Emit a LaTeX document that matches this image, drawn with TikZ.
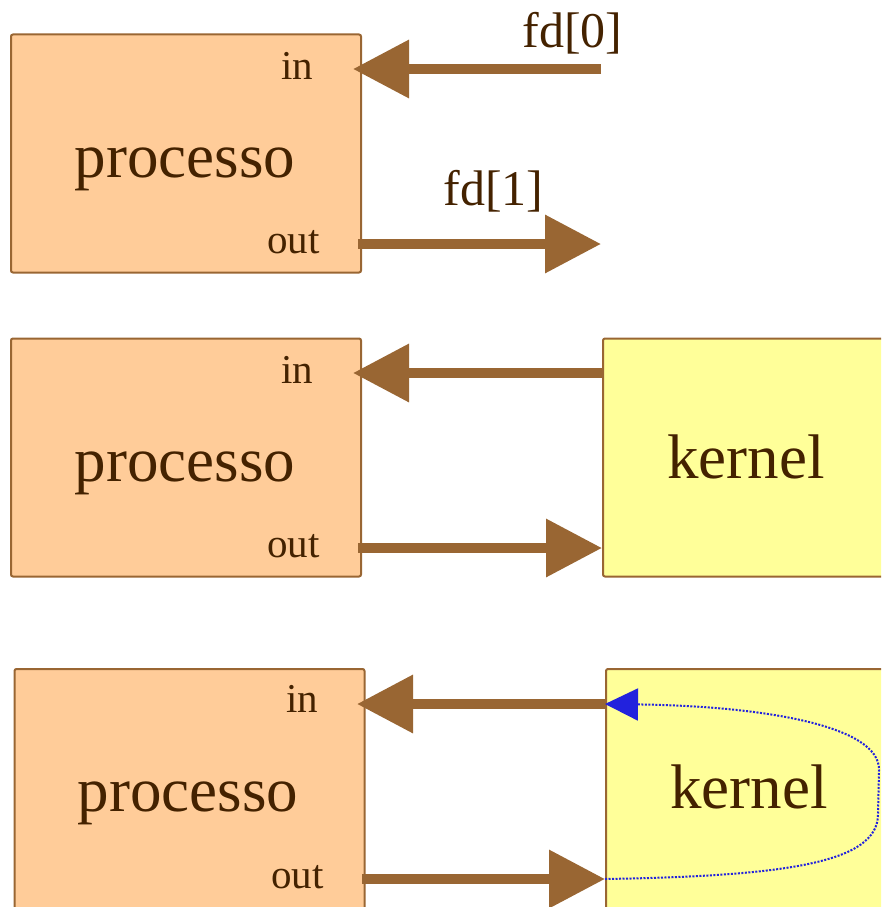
\documentclass[tikz,border=0pt]{standalone}
\usepackage{fontspec}
\setmainfont{Liberation Serif}
\usetikzlibrary{arrows.meta}

\definecolor{boxfill}{HTML}{FFCC99}
\definecolor{kernfill}{HTML}{FFFF99}
\definecolor{pipebrown}{HTML}{996633}
\definecolor{txtbrown}{HTML}{442200}
\definecolor{loopblue}{HTML}{2222DD}

\tikzset{
  procbox/.style={draw=pipebrown, line width=2pt, fill=boxfill, rounded corners=2pt,
    minimum width=350pt, minimum height=238pt, inner sep=0pt},
  kernbox/.style={procbox, fill=kernfill, minimum width=286pt, anchor=west},
  pipe/.style={draw=pipebrown, line width=10pt, -{Triangle[length=56pt,width=56pt]}},
  bigtext/.style={text=txtbrown, font=\fontsize{63}{63}\selectfont, anchor=base},
  porttext/.style={text=txtbrown, font=\fontsize{41}{41}\selectfont, anchor=base east},
  fdtext/.style={text=txtbrown, font=\fontsize{50}{50}\selectfont, anchor=base east}
}

\begin{document}
\begin{tikzpicture}[x=1pt,y=-1pt]
  \useasboundingbox (0,0) rectangle (881,907);
  \clip (0,0) rectangle (881,907);

  % row 1: process with its two descriptors
  \node[procbox] (p1) at (186,153.5) {};
  \node[bigtext] (p1txt) at (185,177) {processo};
  \node[porttext] (p1in) at (317,79) {in};
  \node[porttext] (p1out) at (323,253) {out};
  \coordinate (in1) at (353,69);
  \coordinate (src1) at (601,69);
  \coordinate (out1) at (358,244);
  \coordinate (dst1) at (601,244);
  \draw[pipe] (src1) -- (in1);
  \draw[pipe] (out1) -- (dst1);
  \node[fdtext] (fd0) at (626,48) {fd[0]};
  \node[fdtext] (fd1) at (547,205) {fd[1]};

  % row 2: process and kernel
  \node[procbox] (p2) at (186,457.5) {};
  \node[bigtext] (p2txt) at (185,481) {processo};
  \node[porttext] (p2in) at (317,383) {in};
  \node[porttext] (p2out) at (323,557) {out};
  \node[kernbox] (k2) at (602,457.5) {};
  \node[bigtext] (k2txt) at (746,478) {kernel};
  \coordinate (in2) at (353,373);
  \coordinate (out2) at (358,548);
  \draw[pipe] (k2.west |- in2) -- (in2);
  \draw[pipe] (out2) -- (out2 -| k2.west);

  % row 3: the kernel sends the data back (cut by the page edge)
  \node[procbox, minimum height=260pt] (p3) at (189.5,799) {};
  \node[bigtext] (p3txt) at (188,811) {processo};
  \node[porttext] (p3in) at (322,712) {in};
  \node[porttext] (p3out) at (327,888) {out};
  \node[kernbox, minimum height=260pt] (k3) at (605,799) {};
  \node[bigtext] (k3txt) at (749,808) {kernel};
  \coordinate (in3) at (357,704);
  \coordinate (out3) at (362,879);
  \draw[pipe] (k3.west |- in3) -- (in3);
  \draw[pipe] (out3) -- (out3 -| k3.west);
  \draw[loopblue, line width=2pt, dash pattern=on 2pt off 1.5pt,
    -{Triangle[length=33pt,width=32pt]}]
    (out3 -| k3.west) .. controls (790,876) and (877,862) .. (878,815)
    -- (879,770) .. controls (880,725) and (760,706) .. (k3.west |- in3);
\end{tikzpicture}
\end{document}
